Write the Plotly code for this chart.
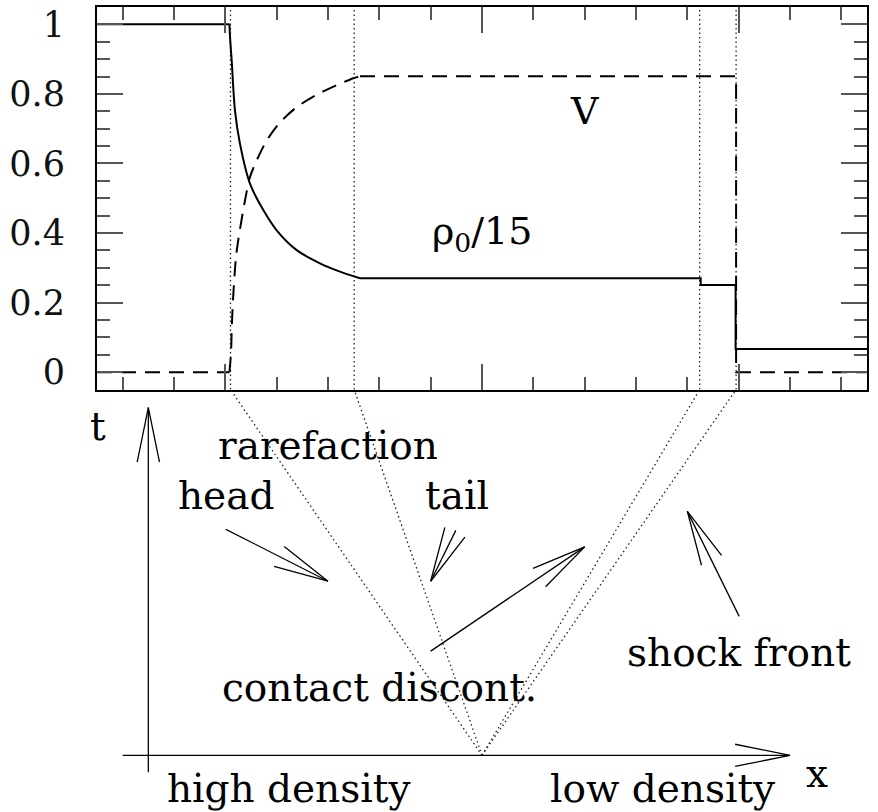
import math
import plotly.graph_objects as go

# ---------------- data (top panel: profiles at fixed time) ----------------
# density / 15 : left state, rarefaction fan, plateau, post-contact, right state
rho_fan_x = [-4.92, -4.905, -4.876, -4.812, -4.715, -4.52, -4.26, -4.0, -3.61,
             -3.156, -2.766, -2.376]
rho_fan_y = [1.0, 0.955, 0.895, 0.752, 0.657, 0.542, 0.466, 0.408, 0.351,
             0.313, 0.289, 0.270]
rho_step_x = [-7.5, -4.92, None, -2.376, 4.26, 4.26, 4.94, 4.94, 7.5]
rho_step_y = [1.0, 1.0, None, 0.270, 0.270, 0.251, 0.251, 0.067, 0.067]

# velocity V : left state, rarefaction fan, plateau, right state
v_fan_x = [-4.92, -4.889, -4.876, -4.857, -4.831, -4.792, -4.748, -4.617, -4.52,
           -4.389, -4.194, -3.935, -3.61, -3.22, -2.83, -2.507, -2.377]
v_fan_y = [0.0, 0.055, 0.122, 0.189, 0.256, 0.332, 0.38, 0.494, 0.561,
           0.609, 0.666, 0.718, 0.762, 0.798, 0.825, 0.845, 0.851]
v_step_x = [-7.5, -4.92, None, -2.377, 4.95, 4.95, 7.5]
v_step_y = [0.0, 0.0, None, 0.851, 0.851, 0.0, 0.0]

# wave positions at t = 1 (head, tail of rarefaction, contact, shock)
wave_names = ["head", "tail", "contact", "shock"]
wave_x = [-4.9, -2.49, 4.24, 4.95]

# ---------------- lower panel (x-t diagram) ----------------
# arrows: (x_start, t_start, x_tip, t_tip)
arrows = {
    "t_axis": (-6.5, -0.046, -6.5, 0.951),
    "x_axis": (-7.0, 0.0, 6.0, 0.0),
    "head": (-4.99, 0.618, -3.0, 0.476),
    "tail": (-0.51, 0.615, -1.0, 0.476),
    "contact": (-1.0, 0.285, 2.0, 0.57),
    "shock": (5.01, 0.38, 4.0, 0.667),
}
lower_labels = [
    ("t", -7.49, 0.90),
    ("rarefaction", -3.0, 0.848),
    ("head", -4.99, 0.71),
    ("tail", -0.49, 0.71),
    ("contact discont.", -2.0, 0.185),
    ("shock front", 5.0, 0.28),
    ("high density", -3.76, -0.09),
    ("low density", 3.52, -0.09),
    ("x", 6.52, -0.05),
]
upper_labels = [
    ("ρ<sub>0</sub>/15", 0.0, 0.40),
    ("V", 2.0, 0.752),
]

# ---------------- layout geometry ----------------
W, H = 878, 812
L, R, T, B = 97, 867, 5, 390          # frame of top panel in pixels
X_RANGE = [-7.5, 7.5]
Y_RANGE = [-0.05, 1.05]
SX = (R - L) / (X_RANGE[1] - X_RANGE[0])  # px per x unit
ORIGIN_Y = 758                             # pixel row of t = 0
ST = ORIGIN_Y - B                          # px per t unit (t=1 at frame bottom)

FONT = "DejaVu Serif"
DOT = dict(color="#222", width=1.3, dash="1.5px,3px")
fig = go.Figure()

# dotted wave lines in top panel
for wx in wave_x:
    fig.add_trace(go.Scatter(x=[wx, wx], y=Y_RANGE, mode="lines", line=DOT,
                             hoverinfo="skip", showlegend=False))
# dotted characteristics in lower panel
for wx in wave_x:
    fig.add_trace(go.Scatter(x=[0, wx], y=[0, 1], xaxis="x2", yaxis="y2", mode="lines",
                             line=DOT, hoverinfo="skip", showlegend=False,
                             cliponaxis=False))

VDASH = "15px,9px"
fig.add_trace(go.Scatter(x=v_step_x, y=v_step_y, mode="lines",
                         line=dict(color="black", width=2, dash=VDASH),
                         showlegend=False, name="V"))
fig.add_trace(go.Scatter(x=v_fan_x, y=v_fan_y, mode="lines",
                         line=dict(color="black", width=2, dash=VDASH,
                                   shape="spline", smoothing=0.8),
                         showlegend=False, name="V fan"))
fig.add_trace(go.Scatter(x=rho_step_x, y=rho_step_y, mode="lines",
                         line=dict(color="black", width=2),
                         showlegend=False, name="rho0/15"))
fig.add_trace(go.Scatter(x=rho_fan_x, y=rho_fan_y, mode="lines",
                         line=dict(color="black", width=2, shape="spline", smoothing=0.8),
                         showlegend=False, name="rho0/15 fan"))


def arrow_path(x0, t0, x1, t1, head=56.0, ang=11.5):
    dxp = (x0 - x1) * SX
    dyp = (t0 - t1) * ST
    n = math.hypot(dxp, dyp)
    ux, uy = dxp / n, dyp / n
    a = math.radians(ang)
    xs, ts = [x0, x1, None], [t0, t1, None]
    for s in (1, -1):
        bx = ux * math.cos(s * a) - uy * math.sin(s * a)
        by = ux * math.sin(s * a) + uy * math.cos(s * a)
        xs += [x1 + bx * head / SX, x1]
        ts += [t1 + by * head / ST, t1]
    return xs, ts


for name, (x0, t0, x1, t1) in arrows.items():
    xs, ts = arrow_path(x0, t0, x1, t1)
    fig.add_trace(go.Scatter(x=xs, y=ts, xaxis="x2", yaxis="y2", mode="lines",
                             line=dict(color="black", width=1.3),
                             hoverinfo="skip", showlegend=False, cliponaxis=False))

annotations = []
for txt, x, t in lower_labels:
    annotations.append(dict(text=txt, x=x, y=t, xref="x2", yref="y2",
                            xanchor="center", yanchor="middle", showarrow=False,
                            font=dict(family=FONT, size=39, color="black")))
for txt, x, y in upper_labels:
    annotations.append(dict(text=txt, x=x, y=y, xref="x", yref="y",
                            xanchor="center", yanchor="middle", showarrow=False,
                            font=dict(family=FONT, size=38, color="black")))

tick_col = "#555"
fig.update_layout(
    width=W, height=H,
    margin=dict(l=0, r=0, t=0, b=0),
    paper_bgcolor="white", plot_bgcolor="white",
    showlegend=False,
    annotations=annotations,
    xaxis=dict(domain=[L / W, R / W], range=X_RANGE, showgrid=False, zeroline=False,
               showline=True, linecolor="black", linewidth=2, mirror="ticks",
               ticks="inside", ticklen=26, tickwidth=1.5, tickcolor=tick_col,
               tick0=0, dtick=5, showticklabels=False,
               minor=dict(ticks="inside", ticklen=13, tickwidth=1.5, tickcolor=tick_col,
                          tick0=0, dtick=1, showgrid=False)),
    yaxis=dict(domain=[(H - B) / H, (H - T) / H], range=Y_RANGE, showgrid=False,
               zeroline=False, showline=True, linecolor="black", linewidth=2,
               mirror="ticks", ticks="inside", ticklen=26, tickwidth=1.5,
               tickcolor=tick_col, tick0=0, dtick=0.2, ticklabelstandoff=23,
               tickfont=dict(family=FONT, size=35, color="#111"),
               minor=dict(ticks="inside", ticklen=13, tickwidth=1.5, tickcolor=tick_col,
                          tick0=0, dtick=0.05, showgrid=False)),
    xaxis2=dict(domain=[0, 1], range=[X_RANGE[0] - L / SX, X_RANGE[1] + (W - R) / SX],
                visible=False, anchor="y2"),
    yaxis2=dict(domain=[0, (H - B) / H], range=[-(H - ORIGIN_Y) / ST, 1.0],
                visible=False, anchor="x2"),
)

fig.write_html("out.html")
